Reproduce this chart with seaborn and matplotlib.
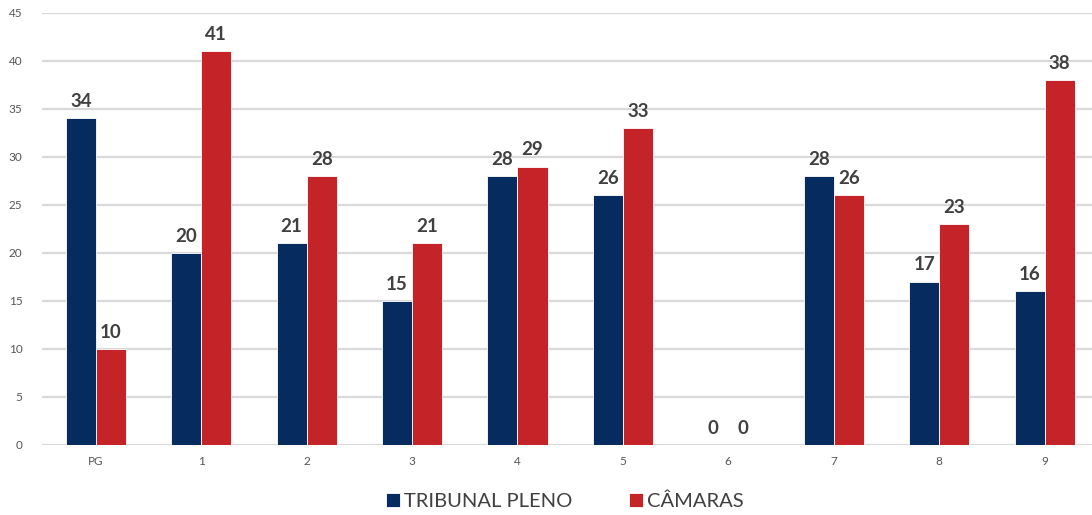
import matplotlib.pyplot as plt
import pandas as pd
import seaborn as sns

# dados
categorias = ["PG", "1", "2", "3", "4", "5", "6", "7", "8", "9"]
tribunal_pleno = [34, 20, 21, 15, 28, 26, 0, 28, 17, 16]
camaras = [10, 41, 28, 21, 29, 33, 0, 26, 23, 38]
series = ["TRIBUNAL PLENO", "CÂMARAS"]
cores = ["#062C5F", "#C42327"]

df = pd.DataFrame({
    "Categoria": categorias * 2,
    "Valor": tribunal_pleno + camaras,
    "Serie": [series[0]] * len(categorias) + [series[1]] * len(categorias),
})

sns.set_theme(style="white")
plt.rcParams["font.family"] = ["Lato", "DejaVu Sans"]

fig = plt.figure(figsize=(10.92, 5.15), dpi=100)
ax = fig.add_axes([0.0385, 0.136, 0.9615, 0.839])

sns.barplot(
    data=df, x="Categoria", y="Valor", hue="Serie",
    order=categorias, hue_order=series, palette=cores,
    width=0.57, edgecolor="white", linewidth=0.6, saturation=1, ax=ax,
)

for container in ax.containers:
    for p in container:
        ax.annotate(
            f"{p.get_height():.0f}",
            (p.get_x() + p.get_width() / 2.0, p.get_height()),
            ha="center", va="bottom", xytext=(0, 6), textcoords="offset points",
            fontsize=13.5, fontweight="bold", color="#404040",
        )

ax.set_ylim(0, 45)
ax.set_yticks(range(0, 46, 5))
ax.set_xlim(-0.51, 9.45)
ax.yaxis.grid(True, color="#d9d9d9", linewidth=1.6)
ax.set_axisbelow(True)
sns.despine(ax=ax, left=True, bottom=True, top=True, right=True)
ax.tick_params(axis="both", length=0, labelsize=8.5, labelcolor="#555555")
ax.tick_params(axis="y", pad=14)
ax.tick_params(axis="x", pad=8)
ax.set_xlabel("")
ax.set_ylabel("")

ax.legend(
    loc="center", bbox_to_anchor=(0.498, -0.13), ncol=2, frameon=False,
    fontsize=14.5, handlelength=0.7, handleheight=0.7, handletextpad=0.2,
    columnspacing=2.8, labelcolor="#404040",
)

plt.savefig("out.png", dpi=100)
